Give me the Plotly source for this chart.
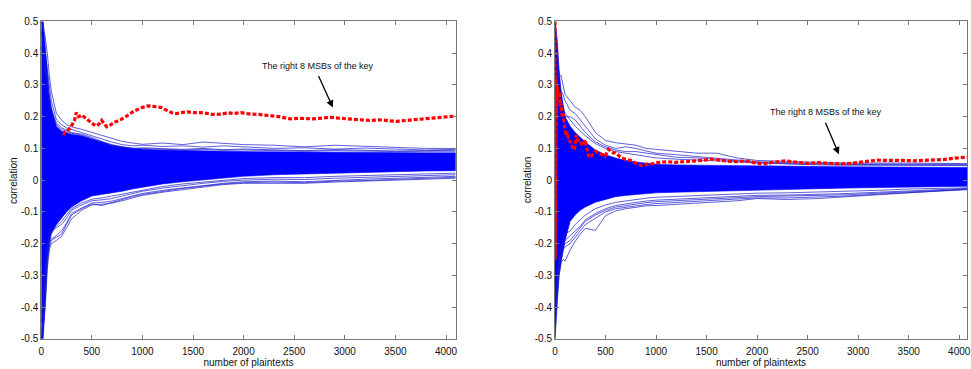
import plotly.graph_objects as go

# ---------------- data ----------------
XG = [0, 20, 40, 60, 80, 100, 150, 200, 250, 300, 400, 500, 600, 700, 800, 900, 1000,
      1200, 1400, 1600, 1800, 2000, 2300, 2600, 2900, 3200, 3500, 3800, 4096]

# left panel: dense core of wrong-key curves (upper / lower edge)
LCU = [0.5, 0.5, 0.42, 0.33, 0.27, 0.23, 0.17, 0.155, 0.15, 0.145, 0.14, 0.13, 0.12, 0.11, 0.105, 0.1, 0.097,
       0.095, 0.093, 0.092, 0.091, 0.09, 0.089, 0.088, 0.087, 0.086, 0.086, 0.086, 0.086]
LCL = [-0.5, -0.5, -0.36, -0.25, -0.2, -0.17, -0.14, -0.12, -0.1, -0.085, -0.065, -0.05, -0.045, -0.04, -0.035, -0.028, -0.022,
       -0.012, -0.005, 0.0, 0.007, 0.012, 0.017, 0.02, 0.023, 0.025, 0.027, 0.029, 0.03]
# left panel: outlying wrong-key curves
LU1 = [0.50, 0.48, 0.45, 0.40, 0.33, 0.28, 0.21, 0.19, 0.175, 0.168, 0.16, 0.15, 0.14, 0.13, 0.122, 0.117, 0.113,
       0.117, 0.112, 0.12, 0.115, 0.112, 0.11, 0.105, 0.11, 0.107, 0.104, 0.1, 0.1]
LU2 = [0.47, 0.44, 0.40, 0.35, 0.29, 0.25, 0.19, 0.175, 0.165, 0.16, 0.15, 0.14, 0.128, 0.12, 0.112, 0.108, 0.11,
       0.106, 0.108, 0.104, 0.108, 0.105, 0.1, 0.102, 0.098, 0.101, 0.097, 0.095, 0.097]
LU3 = [0.42, 0.40, 0.36, 0.30, 0.26, 0.22, 0.18, 0.165, 0.158, 0.15, 0.145, 0.135, 0.122, 0.112, 0.105, 0.1, 0.102,
       0.1, 0.097, 0.1, 0.096, 0.098, 0.095, 0.093, 0.096, 0.094, 0.092, 0.093, 0.094]
LU4 = [0.40, 0.38, 0.34, 0.29, 0.25, 0.21, 0.175, 0.16, 0.155, 0.148, 0.142, 0.132, 0.12, 0.108, 0.103, 0.098, 0.1,
       0.097, 0.095, 0.097, 0.094, 0.095, 0.093, 0.091, 0.093, 0.091, 0.09, 0.091, 0.091]
LL1 = [-0.50, -0.47, -0.40, -0.28, -0.22, -0.20, -0.19, -0.178, -0.15, -0.122, -0.095, -0.078, -0.076, -0.072, -0.065, -0.056, -0.048,
       -0.038, -0.03, -0.022, -0.014, -0.01, -0.009, -0.01, -0.006, -0.003, 0.0, 0.004, 0.006]
LL2 = [-0.48, -0.44, -0.34, -0.24, -0.2, -0.185, -0.175, -0.16, -0.135, -0.105, -0.088, -0.072, -0.07, -0.066, -0.058, -0.05, -0.042,
       -0.032, -0.024, -0.016, -0.01, -0.005, -0.003, -0.005, 0.0, 0.003, 0.006, 0.01, 0.012]
LL3 = [-0.45, -0.40, -0.30, -0.22, -0.18, -0.16, -0.15, -0.14, -0.12, -0.095, -0.078, -0.065, -0.062, -0.058, -0.05, -0.043, -0.035,
       -0.025, -0.017, -0.01, -0.004, 0.0, 0.003, 0.002, 0.006, 0.009, 0.012, 0.015, 0.017]
LL4 = [-0.42, -0.38, -0.28, -0.21, -0.17, -0.15, -0.145, -0.13, -0.11, -0.09, -0.072, -0.06, -0.056, -0.05, -0.044, -0.037, -0.03,
       -0.02, -0.012, -0.006, 0.0, 0.005, 0.008, 0.008, 0.012, 0.014, 0.017, 0.02, 0.022]
LL5 = [-0.50, -0.45, -0.38, -0.26, -0.21, -0.19, -0.18, -0.17, -0.14, -0.11, -0.09, -0.075, -0.08, -0.07, -0.06, -0.052, -0.045,
       -0.035, -0.026, -0.019, -0.012, -0.008, -0.006, -0.008, -0.003, -0.001, 0.003, 0.007, 0.009]

# right panel: dense core
RCU = [0.5, 0.45, 0.35, 0.28, 0.24, 0.2, 0.17, 0.15, 0.135, 0.12, 0.095, 0.08, 0.07, 0.062, 0.057, 0.053, 0.05,
       0.048, 0.047, 0.046, 0.046, 0.045, 0.044, 0.043, 0.042, 0.041, 0.04, 0.04, 0.04]
RCL = [-0.5, -0.38, -0.3, -0.26, -0.22, -0.19, -0.13, -0.11, -0.095, -0.085, -0.07, -0.06, -0.052, -0.048, -0.045, -0.042, -0.04,
       -0.038, -0.036, -0.034, -0.032, -0.031, -0.029, -0.027, -0.025, -0.023, -0.021, -0.02, -0.019]
# right panel: outlying curves
RU1 = [0.50, 0.40, 0.33, 0.33, 0.30, 0.27, 0.25, 0.23, 0.22, 0.20, 0.15, 0.125, 0.118, 0.115, 0.11, 0.1, 0.097,
       0.09, 0.085, 0.085, 0.07, 0.062, 0.058, 0.056, 0.054, 0.055, 0.054, 0.053, 0.052]
RU2 = [0.45, 0.36, 0.31, 0.28, 0.27, 0.25, 0.22, 0.21, 0.19, 0.17, 0.13, 0.11, 0.1, 0.105, 0.1, 0.092, 0.085,
       0.08, 0.075, 0.07, 0.064, 0.058, 0.055, 0.052, 0.05, 0.051, 0.05, 0.049, 0.05]
RU3 = [0.40, 0.32, 0.28, 0.25, 0.23, 0.21, 0.19, 0.17, 0.155, 0.14, 0.115, 0.1, 0.09, 0.085, 0.08, 0.075, 0.07,
       0.066, 0.064, 0.062, 0.058, 0.054, 0.05, 0.048, 0.047, 0.047, 0.046, 0.046, 0.046]
RU4 = [0.38, 0.30, 0.26, 0.24, 0.22, 0.20, 0.20, 0.19, 0.17, 0.15, 0.12, 0.105, 0.095, 0.09, 0.09, 0.085, 0.08,
       0.072, 0.07, 0.065, 0.06, 0.056, 0.052, 0.05, 0.05, 0.049, 0.048, 0.047, 0.048]
RL1 = [-0.50, -0.40, -0.30, -0.26, -0.25, -0.255, -0.22, -0.193, -0.17, -0.152, -0.158, -0.112, -0.097, -0.09, -0.086, -0.081, -0.08,
       -0.076, -0.071, -0.068, -0.065, -0.058, -0.061, -0.058, -0.052, -0.046, -0.041, -0.036, -0.028]
RL2 = [-0.45, -0.36, -0.28, -0.24, -0.22, -0.21, -0.2, -0.18, -0.16, -0.14, -0.12, -0.1, -0.09, -0.085, -0.08, -0.077, -0.074,
       -0.07, -0.067, -0.064, -0.06, -0.056, -0.056, -0.054, -0.05, -0.044, -0.039, -0.034, -0.03]
RL3 = [-0.40, -0.32, -0.26, -0.22, -0.2, -0.19, -0.175, -0.16, -0.145, -0.125, -0.105, -0.09, -0.08, -0.075, -0.07, -0.066, -0.063,
       -0.06, -0.057, -0.054, -0.05, -0.048, -0.047, -0.045, -0.042, -0.038, -0.034, -0.03, -0.026]
RL4 = [-0.42, -0.34, -0.27, -0.23, -0.21, -0.2, -0.19, -0.17, -0.15, -0.13, -0.11, -0.095, -0.085, -0.08, -0.075, -0.071, -0.068,
       -0.065, -0.062, -0.059, -0.055, -0.052, -0.05, -0.049, -0.046, -0.041, -0.036, -0.032, -0.028]
RL5 = [-0.38, -0.30, -0.25, -0.21, -0.19, -0.17, -0.16, -0.14, -0.125, -0.11, -0.09, -0.078, -0.07, -0.065, -0.06, -0.057, -0.054,
       -0.051, -0.048, -0.046, -0.043, -0.041, -0.04, -0.038, -0.035, -0.032, -0.028, -0.026, -0.024]

# correct key (red) curves
LRX = [216, 250, 290, 330, 346, 370, 400, 420, 450, 484, 520, 549, 575, 598, 620, 647, 690, 729, 780, 827, 880, 925,
       990, 1056, 1120, 1186, 1240, 1284, 1340, 1382, 1450, 1500, 1578, 1650, 1700, 1775, 1850, 1900, 1971, 2069, 2150,
       2265, 2350, 2461, 2550, 2687, 2780, 2853, 2950, 3016, 3100, 3245, 3350, 3507, 3600, 3703, 3800, 3899, 3980, 4059, 4096]
LRY = [0.143, 0.155, 0.165, 0.19, 0.213, 0.2, 0.205, 0.2, 0.19, 0.183, 0.175, 0.171, 0.178, 0.188, 0.18, 0.168, 0.175,
       0.183, 0.19, 0.198, 0.21, 0.219, 0.228, 0.234, 0.232, 0.229, 0.22, 0.213, 0.21, 0.213, 0.215, 0.213, 0.213, 0.21,
       0.207, 0.208, 0.212, 0.21, 0.213, 0.208, 0.207, 0.203, 0.2, 0.193, 0.195, 0.193, 0.195, 0.198, 0.195, 0.193, 0.19,
       0.188, 0.19, 0.185, 0.188, 0.191, 0.195, 0.198, 0.2, 0.203, 0.202]
RRX = [0, 1, 2, 3, 4, 5, 6, 8, 10, 14, 20, 30, 40, 52, 60, 70, 80, 90, 101, 110, 121, 135, 154, 167, 180, 195, 209,
       225, 240, 252, 270, 285, 298, 315, 334, 347, 370, 400, 429, 465, 495, 530, 576, 596, 630, 658, 694, 720, 759, 790,
       822, 858, 900, 956, 1000, 1050, 1117, 1186, 1230, 1284, 1350, 1415, 1480, 1545, 1610, 1676, 1740, 1807, 1883,
       1960, 2047, 2150, 2276, 2400, 2505, 2600, 2701, 2833, 2930, 3029, 3110, 3193, 3280, 3357, 3450, 3553, 3650, 3750,
       3850, 3946, 4020, 4096]
RRY = [0.5, -0.25, 0.45, -0.15, 0.4, -0.05, 0.36, 0.05, 0.33, 0.2, 0.3, 0.26, 0.28, 0.234, 0.24, 0.2, 0.21, 0.17,
       0.152, 0.14, 0.152, 0.125, 0.122, 0.112, 0.095, 0.1, 0.142, 0.13, 0.12, 0.122, 0.11, 0.115, 0.127, 0.1, 0.075,
       0.071, 0.08, 0.091, 0.086, 0.081, 0.076, 0.097, 0.086, 0.086, 0.078, 0.071, 0.066, 0.065, 0.061, 0.055, 0.051,
       0.046, 0.05, 0.051, 0.055, 0.056, 0.058, 0.056, 0.057, 0.059, 0.058, 0.061, 0.063, 0.066, 0.063, 0.061, 0.059,
       0.058, 0.061, 0.056, 0.051, 0.056, 0.061, 0.056, 0.053, 0.055, 0.053, 0.051, 0.053, 0.056, 0.06, 0.063, 0.062,
       0.061, 0.062, 0.061, 0.062, 0.063, 0.065, 0.069, 0.071, 0.073]

XT = [0, 500, 1000, 1500, 2000, 2500, 3000, 3500, 4000]
XTL = ["0", "500", "1000", "1500", "2000", "2500", "3000", "3500", "4000"]
YT = [-0.5, -0.4, -0.3, -0.2, -0.1, 0, 0.1, 0.2, 0.3, 0.4, 0.5]
YTL = ["-0.5", "-0.4", "-0.3", "-0.2", "-0.1", "0", "0.1", "0.2", "0.3", "0.4", "0.5"]

LABEL = "The right 8 MSBs of the key"
XTITLE = "number of plaintexts"
YTITLE = "correlation"

# ---------------- figure ----------------
W, H = 971, 369
BLUE = "#0000ff"
RED = "#ff0000"
fig = go.Figure()

def panel(xa, ya, cu, cl, outs, rx, ry):
    fig.add_trace(go.Scatter(x=XG + XG[::-1], y=cu + cl[::-1], fill="toself", fillcolor=BLUE,
                             line=dict(color=BLUE, width=0.6), mode="lines",
                             xaxis=xa, yaxis=ya, showlegend=False, hoverinfo="skip"))
    for o in outs:
        fig.add_trace(go.Scatter(x=XG, y=o, mode="lines", line=dict(color="#1a1acc", width=0.7),
                                 xaxis=xa, yaxis=ya, showlegend=False))
    fig.add_trace(go.Scatter(x=rx, y=ry, mode="lines", line=dict(color=RED, width=3.2, dash="4px,2px"),
                             xaxis=xa, yaxis=ya, showlegend=False))

panel("x", "y", LCU, LCL, [LU1, LU2, LU3, LU4, LL1, LL2, LL3, LL4, LL5], LRX, LRY)
panel("x2", "y2", RCU, RCL, [RU1, RU2, RU3, RU4, RL1, RL2, RL3, RL4, RL5], RRX, RRY)

ytop = 1 - 16 / H
ybot = 1 - 344 / H
font = dict(family="Liberation Sans, Arial, sans-serif", size=10, color="#111")
tfont = dict(family="Liberation Sans, Arial, sans-serif", size=10, color="#111")
axcommon = dict(ticks="inside", ticklen=4, tickcolor="#777", showline=True, linecolor="#777", linewidth=1,
                mirror="ticks", showgrid=False, zeroline=False, tickfont=font)
xtitle = dict(text=XTITLE, font=tfont, standoff=1)

fig.update_layout(
    width=W, height=H, margin=dict(l=0, r=0, t=0, b=0),
    paper_bgcolor="white", plot_bgcolor="white",
    xaxis=dict(domain=[38.5 / W, 456 / W], range=[0, 4096], tickvals=XT, ticktext=XTL, anchor="y",
               ticklabelstandoff=3, title=xtitle, **axcommon),
    yaxis=dict(domain=[ybot, ytop], range=[-0.5, 0.5], tickvals=YT, ticktext=YTL, anchor="x", **axcommon),
    xaxis2=dict(domain=[556 / W, 1.0], range=[0, 4077], tickvals=XT, ticktext=XTL, anchor="y2",
                ticklabelstandoff=3, ticklabeloverflow="allow", title=xtitle, **axcommon),
    yaxis2=dict(domain=[ybot, ytop], range=[-0.5, 0.5], tickvals=YT, ticktext=YTL, anchor="x2", **axcommon),
)

ann = []
for cx in (10, 528):
    ann.append(dict(text=YTITLE, x=cx / W, y=1 - 180 / H, xref="paper", yref="paper", textangle=-90,
                    showarrow=False, font=tfont, xanchor="center", yanchor="middle"))
lfont = dict(family="Liberation Sans, Arial, sans-serif", size=9, color="#111")
# left label + arrow
ann.append(dict(text=LABEL, x=2735, y=0.36, xref="x", yref="y", showarrow=False, font=lfont))
ann.append(dict(text="", x=2882, y=0.229, xref="x", yref="y", ax=-15, ay=-33, showarrow=True,
                arrowhead=2, arrowsize=1.1, arrowwidth=1.3, arrowcolor="black"))
# right label + arrow
ann.append(dict(text=LABEL, x=2682, y=0.216, xref="x2", yref="y2", showarrow=False, font=lfont))
ann.append(dict(text="", x=2809, y=0.082, xref="x2", yref="y2", ax=-14, ay=-33, showarrow=True,
                arrowhead=2, arrowsize=1.1, arrowwidth=1.3, arrowcolor="black"))
fig.update_layout(annotations=ann)

fig.write_html("out.html")
